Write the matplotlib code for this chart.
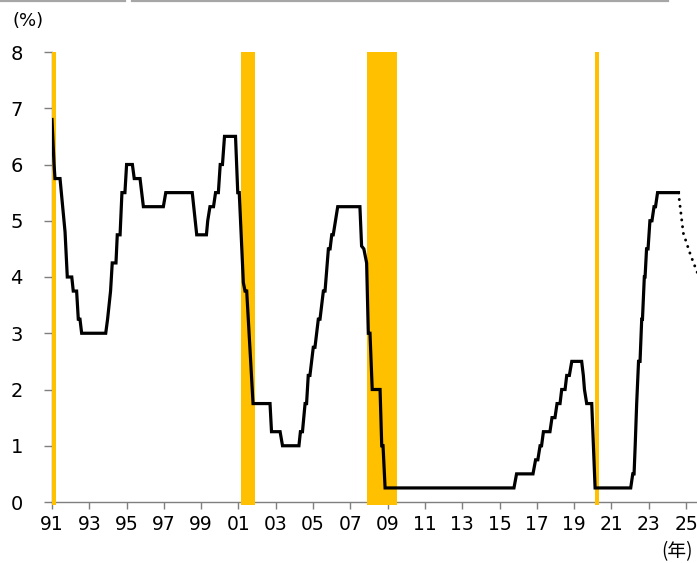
import matplotlib
matplotlib.use("Agg")
import matplotlib.pyplot as plt
from matplotlib.lines import Line2D

plt.rcParams['font.family'] = ['DejaVu Sans', 'Noto Sans CJK JP']

# Policy rate (upper bound, %) - vertices of the monthly line
rate_years = [
    1991.00, 1991.11, 1991.16, 1991.43, 1991.70, 1991.82, 1992.06, 1992.14,
    1992.32, 1992.41, 1992.50, 1992.59, 1993.88, 1993.98, 1994.06, 1994.14,
    1994.23, 1994.43, 1994.50, 1994.65, 1994.75, 1994.91, 1995.00, 1995.31,
    1995.41, 1995.72, 1995.90, 1996.97, 1997.10, 1998.52, 1998.76, 1999.28,
    1999.35, 1999.47, 1999.66, 1999.77, 1999.92, 2000.02, 2000.14, 2000.25,
    2000.84, 2000.96, 2001.04, 2001.26, 2001.35, 2001.44, 2001.78, 2002.69,
    2002.77, 2003.23, 2003.36, 2004.24, 2004.32, 2004.43, 2004.57, 2004.65,
    2004.74, 2004.83, 2005.01, 2005.10, 2005.28, 2005.37, 2005.55, 2005.64,
    2005.82, 2005.91, 2006.00, 2006.08, 2006.32, 2007.51, 2007.60, 2007.72,
    2007.87, 2007.96, 2008.05, 2008.17, 2008.59, 2008.68, 2008.75, 2008.86,
    2015.77, 2015.91, 2016.79, 2016.93, 2017.05, 2017.17, 2017.25, 2017.35,
    2017.70, 2017.81, 2017.97, 2018.08, 2018.24, 2018.33, 2018.51, 2018.60,
    2018.74, 2018.87, 2019.40, 2019.49, 2019.55, 2019.67, 2019.94, 2020.12,
    2022.03, 2022.14, 2022.21, 2022.27, 2022.35, 2022.45, 2022.53, 2022.62,
    2022.66, 2022.76, 2022.80, 2022.88, 2022.96, 2023.06, 2023.17, 2023.28,
    2023.36, 2023.47, 2024.59,
]
rate_values = [
    6.80, 6.00, 5.75, 5.75, 4.80, 4.00, 4.00, 3.75,
    3.75, 3.25, 3.25, 3.00, 3.00, 3.25, 3.50, 3.75,
    4.25, 4.25, 4.75, 4.75, 5.50, 5.50, 6.00, 6.00,
    5.75, 5.75, 5.25, 5.25, 5.50, 5.50, 4.75, 4.75,
    5.00, 5.25, 5.25, 5.50, 5.50, 6.00, 6.00, 6.50,
    6.50, 5.50, 5.50, 3.90, 3.75, 3.75, 1.75, 1.75,
    1.25, 1.25, 1.00, 1.00, 1.25, 1.25, 1.75, 1.75,
    2.25, 2.25, 2.75, 2.75, 3.25, 3.25, 3.75, 3.75,
    4.50, 4.50, 4.75, 4.75, 5.25, 5.25, 4.55, 4.50,
    4.25, 3.00, 3.00, 2.00, 2.00, 1.00, 1.00, 0.25,
    0.25, 0.50, 0.50, 0.75, 0.75, 1.00, 1.00, 1.25,
    1.25, 1.50, 1.50, 1.75, 1.75, 2.00, 2.00, 2.25,
    2.25, 2.50, 2.50, 2.25, 2.00, 1.75, 1.75, 0.25,
    0.25, 0.50, 0.50, 1.00, 1.75, 2.50, 2.50, 3.25,
    3.25, 4.00, 4.00, 4.50, 4.50, 5.00, 5.00, 5.25,
    5.25, 5.50, 5.50,
]

# Market-implied path (dotted)
proj_years = [2024.59, 2024.85, 2025.24, 2025.60]
proj_values = [5.50, 4.78, 4.39, 4.08]

# Recession periods (shaded)
recession_start = [1990.58, 2001.13, 2007.89, 2020.11]
recession_end = [1991.20, 2001.88, 2009.50, 2020.33]

tick_years = list(range(1991, 2026, 2))
tick_labels = [f"{y % 100:02d}" for y in tick_years]
y_ticks = [0, 1, 2, 3, 4, 5, 6, 7, 8]

W, H = 697, 563
fig = plt.figure(figsize=(W / 100, H / 100), dpi=100)

left_px, right_px, top_px, bottom_px = 52, 697, 52, 502
ax = fig.add_axes([left_px / W, 1 - bottom_px / H,
                   (right_px - left_px) / W, (bottom_px - top_px) / H])

x_min = 1991.0
x_max = 1991.0 + (right_px - left_px) / 18.65
ax.set_xlim(x_min, x_max)
ax.set_ylim(0, 8)

band_color = "#FFC000"
for s, e in zip(recession_start, recession_end):
    s = max(s, x_min)
    ax.axvspan(s, e, ymin=-0.007, ymax=1.0, color=band_color, lw=0,
               zorder=3, clip_on=False)

ax.plot(rate_years, rate_values, color="black", lw=2.3,
        solid_joinstyle="miter", zorder=5)
ax.plot(proj_years, proj_values, color="black", lw=2.1,
        linestyle=(0, (0.05, 2.3)), dash_capstyle="round", zorder=5)

ax.set_xticks(tick_years)
ax.set_xticklabels(tick_labels)
ax.set_yticks(y_ticks)

axis_gray = "#7f7f7f"
for side in ("top", "right"):
    ax.spines[side].set_visible(False)
for side in ("left", "bottom"):
    ax.spines[side].set_color(axis_gray)
    ax.spines[side].set_linewidth(1.0)

ax.tick_params(axis="x", direction="out", length=5, width=1.0,
               color=axis_gray, labelsize=13.5, pad=4, labelcolor="black")
ax.tick_params(axis="y", direction="out", length=6, width=1.0,
               color=axis_gray, labelsize=14, pad=15, labelcolor="black")

fig.text(12 / W, 1 - 21 / H, "(%)", fontsize=13, ha="left", va="center")
fig.text(661 / W, 1 - 552 / H, "(年)", fontsize=13.5,
         family=["Noto Sans CJK JP", "DejaVu Sans"], ha="left", va="center")

# header rules along the top edge
rule_y = 1 - 1 / H
for x0, x1 in [(0, 125), (132, 668)]:
    fig.add_artist(Line2D([x0 / W, x1 / W], [rule_y, rule_y],
                          color="#a6a6a6", lw=1.6, transform=fig.transFigure))

fig.savefig("out.png", dpi=100)
